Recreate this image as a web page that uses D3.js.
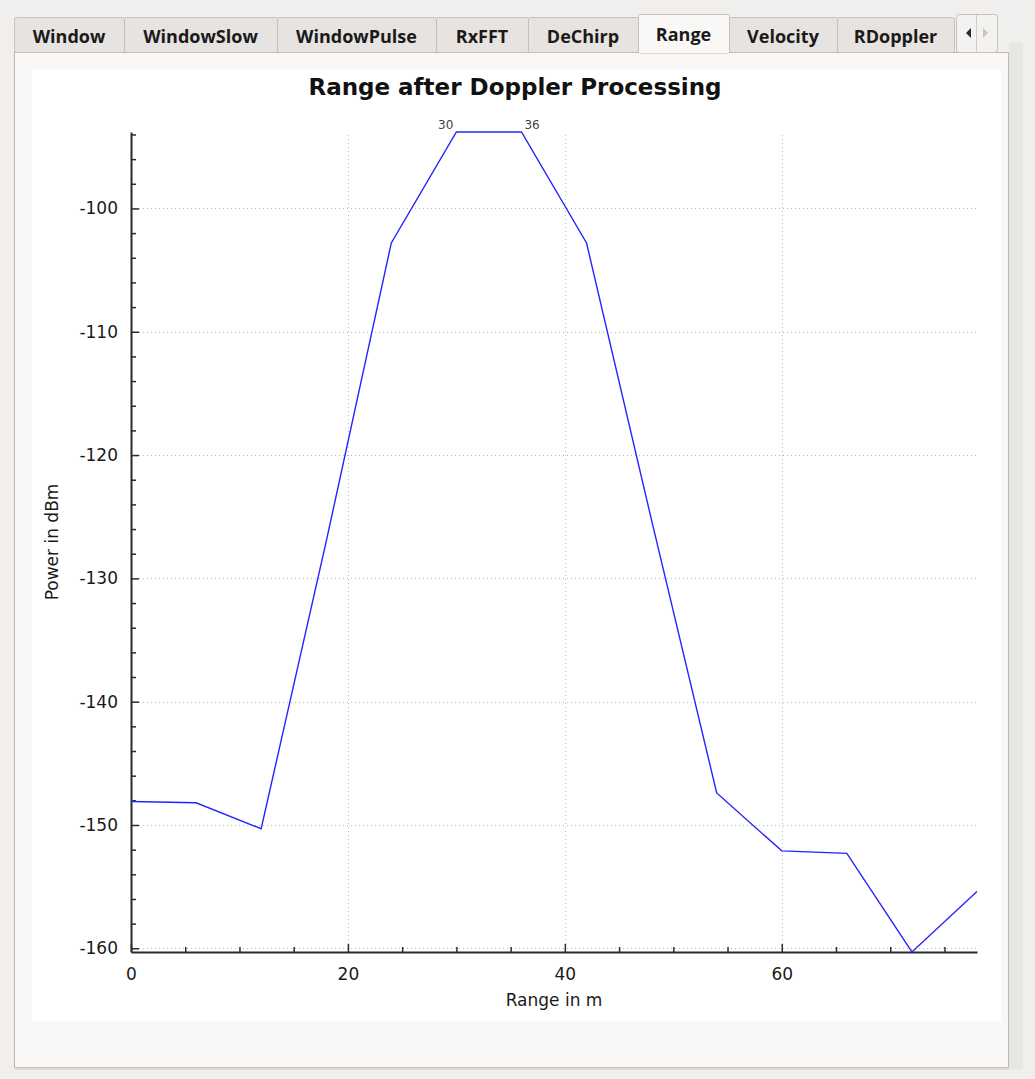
<!DOCTYPE html>
<html>
<head>
<meta charset="utf-8">
<script src="https://cdn.jsdelivr.net/npm/d3@7"></script>
<style>
  body { margin: 0; background: #f0efed; }
  svg { display: block; font-family: "DejaVu Sans", sans-serif; }
</style>
</head>
<body>
<svg id="chart" width="1035" height="1079"></svg>
<script>
    // range bins (m) and power after doppler processing (dBm)
    const rangeM = [0, 6, 12, 18, 24, 30, 36, 42, 48, 54, 60, 66, 72, 78];
    const powerDbm = [-148.1, -148.2, -150.3, -127.0, -102.8, -93.8, -93.8, -102.8, -125.3, -147.4, -152.1, -152.3, -160.3, -155.4];
    const peakLabels = ["30", "36"];
    const xTicks = [0, 20, 40, 60];
    const yTicks = [-160, -150, -140, -130, -120, -110, -100];
    const tabNames = ["Window", "WindowSlow", "WindowPulse", "RxFFT", "DeChirp", "Range", "Velocity", "RDoppler"];
    const tabEdges = [14, 124, 277, 436, 528, 638, 729, 837, 954];
    const activeTab = "Range";

    const svg = d3.select("#chart");

    // --- window chrome: tab panel ---
    svg.append("rect").attr("x", 0).attr("y", 0).attr("width", 1035).attr("height", 1079).attr("fill", "#f0efed");
    svg.append("rect").attr("x", 1009).attr("y", 43).attr("width", 14).attr("height", 1026).attr("fill", "#e8e6e3");
    svg.append("rect").attr("x", 14.5).attr("y", 52.5).attr("width", 994).attr("height", 1015)
        .attr("fill", "#faf8f6").attr("stroke", "#bdb9b4");
    svg.append("line").attr("x1", 15).attr("x2", 1009).attr("y1", 1068.5).attr("y2", 1068.5)
        .attr("stroke", "#d8d5d1").attr("stroke-width", 2);

    const tabs = svg.append("g");
    tabNames.forEach((name, i) => {
        const x0 = tabEdges[i], x1 = tabEdges[i + 1];
        const on = name === activeTab;
        const top = on ? 14 : 17;
        tabs.append("rect").attr("x", x0 + 0.5).attr("y", top + 0.5)
            .attr("width", x1 - x0).attr("height", 52 - top + (on ? 1 : 0))
            .attr("rx", 2)
            .attr("fill", on ? "#faf8f6" : "#e6e3e0").attr("stroke", "#c4c0bb");
        tabs.append("text").attr("x", (x0 + x1) / 2).attr("y", on ? 41 : 43)
            .attr("text-anchor", "middle").attr("font-size", 18).attr("font-weight", "bold")
            .attr("font-family", "'Open Sans', sans-serif").attr("fill", "#1a1a1a")
            .text(name);
    });
    // redraw panel top border except under active tab
    const ai = tabNames.indexOf(activeTab);
    svg.append("line").attr("x1", tabEdges[ai] + 1).attr("x2", tabEdges[ai + 1])
        .attr("y1", 52.5).attr("y2", 52.5).attr("stroke", "#faf8f6").attr("stroke-width", 2);
    // scroll arrows
    svg.append("rect").attr("x", 956.5).attr("y", 14.5).attr("width", 41).attr("height", 38)
        .attr("rx", 3).attr("fill", "#f3f2f0").attr("stroke", "#c4c0bb");
    svg.append("line").attr("x1", 976.5).attr("x2", 976.5).attr("y1", 15).attr("y2", 52).attr("stroke", "#d0ccc8");
    svg.append("path").attr("d", "M971,28 L966,33 L971,38 Z").attr("fill", "#2a2a2a");
    svg.append("path").attr("d", "M983,28 L988,33 L983,38 Z").attr("fill", "#c8c5c1");

    // --- plot widget ---
    svg.append("rect").attr("x", 32).attr("y", 70).attr("width", 969).attr("height", 951).attr("fill", "#ffffff");

    const margin = { top: 132, right: 58, bottom: 127, left: 131 };
    const W = 1035, H = 1079;
    const x = d3.scaleLinear().domain([0, 78]).range([margin.left, W - margin.right]);
    const y = d3.scaleLinear().domain([d3.min(powerDbm), d3.max(powerDbm)]).range([H - margin.bottom, margin.top]);
    const fmt = d => String(d);   // plain hyphen minus, like the original

    // title
    svg.append("text").attr("x", 515).attr("y", 95).attr("text-anchor", "middle")
        .attr("font-size", 23).attr("font-weight", "bold").attr("fill", "#111")
        .text("Range after Doppler Processing");

    // grid
    const grid = svg.append("g").attr("stroke", "#bcbcbc").attr("stroke-width", 1).attr("stroke-dasharray", "1,3");
    grid.selectAll(".gx").data(xTicks.filter(d => d > 0)).join("line")
        .attr("x1", d => Math.round(x(d)) + 0.5).attr("x2", d => Math.round(x(d)) + 0.5)
        .attr("y1", y.range()[0]).attr("y2", y.range()[1]);
    grid.selectAll(".gy").data(yTicks).join("line")
        .attr("x1", x.range()[0]).attr("x2", x.range()[1])
        .attr("y1", d => Math.round(y(d)) + 0.5).attr("y2", d => Math.round(y(d)) + 0.5);

    // axes (ticks pointing inward)
    const minorX = d3.range(0, 79, 5).filter(d => !xTicks.includes(d));
    const minorY = d3.range(-160, -93, 2).filter(d => !yTicks.includes(d));

    const xAxis = svg.append("g").attr("transform", `translate(0,${y.range()[0]})`)
        .call(d3.axisBottom(x).tickValues(xTicks).tickSizeInner(-8).tickSizeOuter(0).tickPadding(16).tickFormat(fmt));
    xAxis.append("g").call(d3.axisBottom(x).tickValues(minorX).tickSizeInner(-5).tickSizeOuter(0).tickFormat(""))
        .select(".domain").remove();

    const yAxis = svg.append("g").attr("transform", `translate(${x.range()[0]},0)`)
        .call(d3.axisLeft(y).tickValues(yTicks).tickSizeInner(-8).tickSizeOuter(0).tickPadding(13).tickFormat(fmt));
    yAxis.append("g").call(d3.axisLeft(y).tickValues(minorY).tickSizeInner(-5).tickSizeOuter(0).tickFormat(""))
        .select(".domain").remove();

    [xAxis, yAxis].forEach(a => {
        a.selectAll(".domain").attr("stroke", "#2b2b2b").attr("stroke-width", 2);
        a.selectAll(".tick line").attr("stroke", "#2b2b2b").attr("stroke-width", 1.5);
        a.selectAll("text").attr("font-size", 17).attr("fill", "#1a1a1a").attr("font-family", "'DejaVu Sans', sans-serif");
    });

    // axis titles
    svg.append("text").attr("x", d3.mean(x.range())).attr("y", 1006).attr("text-anchor", "middle")
        .attr("font-size", 17).attr("fill", "#1a1a1a").text("Range in m");
    svg.append("text").attr("transform", `translate(58,${d3.mean(y.range())}) rotate(-90)`)
        .attr("text-anchor", "middle").attr("font-size", 17).attr("fill", "#1a1a1a").text("Power in dBm");

    // data line
    const pts = rangeM.map((r, i) => [r, powerDbm[i]]);
    svg.append("path").datum(pts)
        .attr("fill", "none").attr("stroke", "#2424ff").attr("stroke-width", 1.4)
        .attr("d", d3.line().x(d => x(d[0])).y(d => y(d[1])));

    // peak markers
    const peakMax = d3.max(powerDbm);
    const peaks = pts.filter(p => p[1] === peakMax);
    svg.selectAll(".peak").data(peaks).join("text")
        .attr("x", (d, i) => x(d[0]) + (i === 0 ? -3 : 3))
        .attr("y", d => y(d[1]) - 3)
        .attr("text-anchor", (d, i) => i === 0 ? "end" : "start")
        .attr("font-size", 12).attr("fill", "#444")
        .text((d, i) => peakLabels[i]);
</script>
</body>
</html>
